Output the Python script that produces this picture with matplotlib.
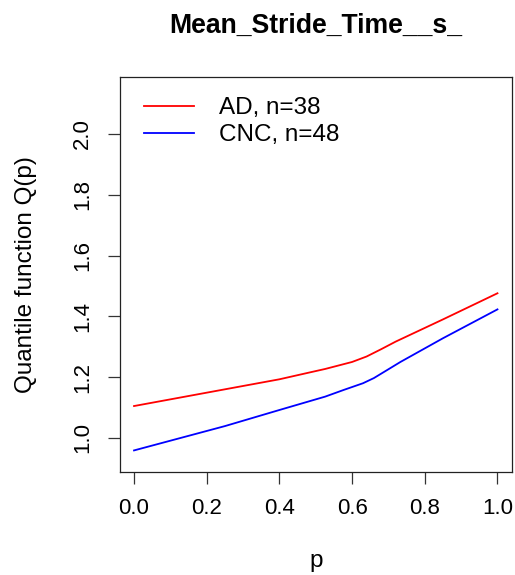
import matplotlib
matplotlib.use("Agg")
import matplotlib.pyplot as plt

plt.rcParams['font.family'] = ['Liberation Sans', 'DejaVu Sans']

title = "Mean_Stride_Time__s_"
xlabel = "p"
ylabel = "Quantile function Q(p)"

p_ad = [0.0, 0.25, 0.40, 0.485, 0.526, 0.60, 0.64, 0.68, 0.72, 0.85, 1.0]
q_ad = [1.105, 1.160, 1.193, 1.216, 1.227, 1.250, 1.268, 1.292, 1.317, 1.390, 1.476]
label_ad = "AD, n=38"

p_cnc = [0.0, 0.25, 0.40, 0.526, 0.577, 0.63, 0.66, 0.70, 0.733, 0.85, 1.0]
q_cnc = [0.959, 1.039, 1.092, 1.136, 1.158, 1.180, 1.197, 1.226, 1.250, 1.328, 1.423]
label_cnc = "CNC, n=48"

xticks = [0.0, 0.2, 0.4, 0.6, 0.8, 1.0]
yticks = [1.0, 1.2, 1.4, 1.6, 1.8, 2.0]

W, H = 515, 575
fig = plt.figure(figsize=(W / 100, H / 100), dpi=100)
L, R, T, B = 120, 512, 77, 472
ax = fig.add_axes([L / W, 1 - B / H, (R - L) / W, (B - T) / H])

ax.plot(p_ad, q_ad, color='#ff0000', lw=1.3, label=label_ad)
ax.plot(p_cnc, q_cnc, color='#0000ff', lw=1.3, label=label_cnc)

ax.set_xlim(-0.0386, 1.04)
ax.set_ylim(0.888, 2.1875)
ax.set_xticks(xticks)
ax.set_xticklabels([f"{v:.1f}" for v in xticks])
ax.set_yticks(yticks)
ax.set_yticklabels([f"{v:.1f}" for v in yticks], rotation=90, va='center')

fs_tick = 16
fs = 17.5
ax.tick_params(axis='both', length=8.6, width=0.9, labelsize=fs_tick, color='#333333')
ax.tick_params(axis='x', pad=10)
ax.tick_params(axis='y', pad=11)
for s in ax.spines.values():
    s.set_linewidth(0.9)
    s.set_color('#222222')

ax.set_xlabel(xlabel, fontsize=fs, va='baseline')
ax.xaxis.set_label_coords(0.5, -(567 - B) / (B - T))
ax.set_ylabel(ylabel, fontsize=fs, va='baseline', rotation_mode='anchor')
ax.yaxis.set_label_coords((32 - L) / (R - L), 0.5)

fig.text(316 / W, 1 - 32.5 / H, title, ha='center', va='baseline',
         fontsize=19.2, fontweight='bold')

leg = ax.legend(loc='upper left', bbox_to_anchor=((144 - L) / (R - L), 1 - (97 - T) / (B - T)),
                frameon=False, fontsize=fs, handlelength=2.06, handletextpad=1.03,
                labelspacing=0.22, borderpad=0, borderaxespad=0)

fig.savefig("out.png", dpi=100)
